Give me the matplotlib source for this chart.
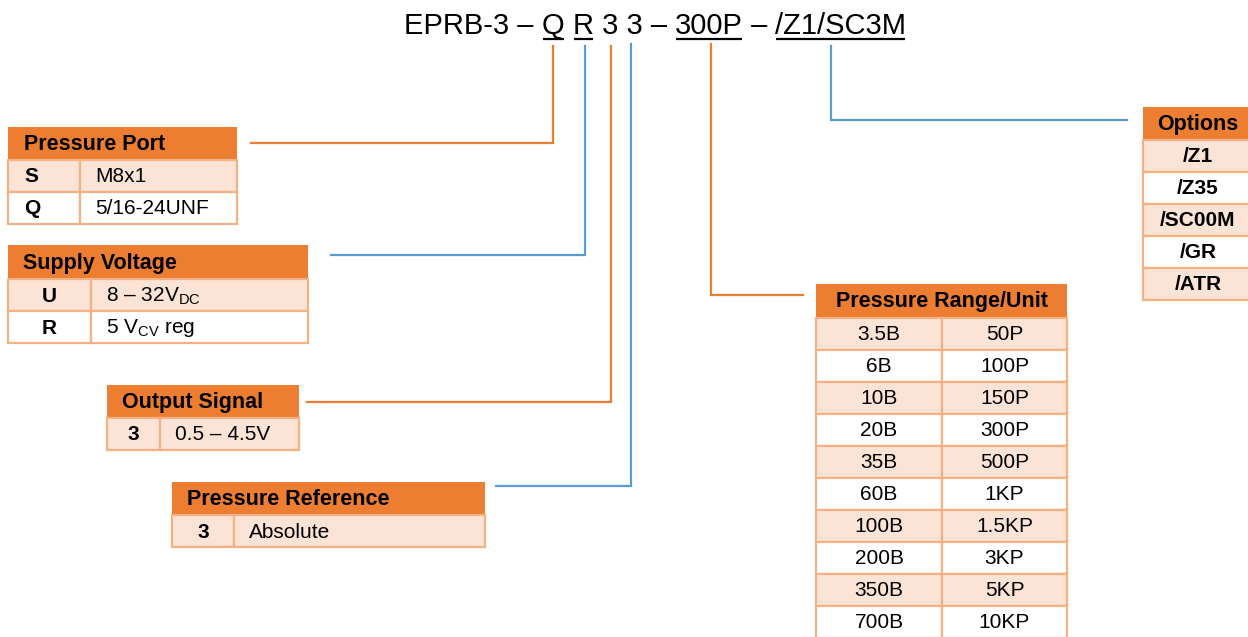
import matplotlib
matplotlib.use("Agg")
import matplotlib.pyplot as plt
from matplotlib.patches import Rectangle

plt.rcParams['font.family'] = ['Liberation Sans', 'DejaVu Sans']
plt.rcParams['mathtext.fontset'] = 'custom'
plt.rcParams['mathtext.rm'] = 'Liberation Sans'
plt.rcParams['mathtext.it'] = 'Liberation Sans:italic'
plt.rcParams['mathtext.bf'] = 'Liberation Sans:bold'

# ---- content ----
title_parts = ["EPRB-3 – ", "Q", " ", "R", " 3 3 – ", "300P", " – ", "/Z1/SC3M"]
title_underlined = [False, True, False, True, False, True, False, True]

port_header = "Pressure Port"
port_codes = ["S", "Q"]
port_values = ["M8x1", "5/16-24UNF"]

voltage_header = "Supply Voltage"
voltage_codes = ["U", "R"]
voltage_values = [r"8 – 32V$_{\mathrm{DC}}$", r"5 V$_{\mathrm{CV}}$ reg"]

output_header = "Output Signal"
output_codes = ["3"]
output_values = ["0.5 – 4.5V"]

reference_header = "Pressure Reference"
reference_codes = ["3"]
reference_values = ["Absolute"]

range_header = "Pressure Range/Unit"
range_bar = ["3.5B", "6B", "10B", "20B", "35B", "60B", "100B", "200B", "350B", "700B"]
range_psi = ["50P", "100P", "150P", "300P", "500P", "1KP", "1.5KP", "3KP", "5KP", "10KP"]

options_header = "Options"
options_codes = ["/Z1", "/Z35", "/SC00M", "/GR", "/ATR"]

# ---- style ----
ORANGE = "#ED7D31"
LIGHT = "#FBE4D5"
BORDER = "#F4B183"
BLUE = "#5B9BD5"
W, H = 1248, 637

fig = plt.figure(figsize=(W / 100, H / 100), dpi=100)
ax = fig.add_axes([0, 0, 1, 1])
ax.set_xlim(0, W)
ax.set_ylim(H, 0)
ax.axis("off")

HS = 15.5   # header font size
BS = 15     # body font size


def table(x, y, widths, header, rows, header_align="left", header_pad=15,
          col_align=("center", "left"), col_pad=(0, 15), bold_cols=(True, False),
          hh=33, rh=32, start_light=True, center_x=None):
    total = sum(widths)
    ax.add_patch(Rectangle((x, y), total, hh, facecolor=ORANGE, edgecolor="none", zorder=2))
    if header_align == "left":
        ax.text(x + header_pad, y + hh / 2 + 1, header, fontsize=HS, fontweight="bold",
                ha="left", va="center", zorder=5)
    else:
        hx = center_x if center_x is not None else x + total / 2
        ax.text(hx, y + hh / 2 + 1, header, fontsize=HS, fontweight="bold",
                ha="center", va="center", zorder=5)
    for i, row in enumerate(rows):
        ry = y + hh + i * rh
        light = (i % 2 == 0) == start_light
        cx = x
        for j, (wd, txt) in enumerate(zip(widths, row)):
            ax.add_patch(Rectangle((cx, ry), wd, rh, facecolor=LIGHT if light else "white",
                                   edgecolor=BORDER, lw=1.6, zorder=3))
            if col_align[j] == "center":
                tx = center_x if (center_x is not None and len(widths) == 1) else cx + wd / 2
                ha = "center"
            else:
                tx, ha = cx + col_pad[j], "left"
            ax.text(tx, ry + rh / 2 + 1, txt, fontsize=BS,
                    fontweight="bold" if bold_cols[j] else "normal",
                    ha=ha, va="center", zorder=5)
            cx += wd


table(8, 127, [72, 157], port_header, list(zip(port_codes, port_values)),
      col_align=("left", "left"), col_pad=(16, 15), header_pad=16)
table(8, 245, [83, 217], voltage_header, list(zip(voltage_codes, voltage_values)), hh=34)
table(107, 385, [53, 139], output_header, list(zip(output_codes, output_values)))
table(172, 482, [62, 251], reference_header, list(zip(reference_codes, reference_values)))
table(816, 284, [126, 125], range_header, list(zip(range_bar, range_psi)),
      header_align="center", col_align=("center", "center"), bold_cols=(False, False), hh=34)
table(1143, 107, [120], options_header, [(c,) for c in options_codes],
      header_align="center", col_align=("center",), bold_cols=(True,), center_x=1198)

# ---- title with underlines ----
fig.canvas.draw()
renderer = fig.canvas.get_renderer()
TS = 21
full = "".join(title_parts)
tmp = ax.text(0, 0, full, fontsize=TS)
total_w = tmp.get_window_extent(renderer).width
tmp.remove()
x0 = 655 - total_w / 2
ty = 34
cur = x0
for part, ul in zip(title_parts, title_underlined):
    t = ax.text(cur, ty, part, fontsize=TS, ha="left", va="baseline", zorder=5)
    wpx = t.get_window_extent(renderer).width
    if ul:
        ax.plot([cur + 1, cur + wpx - 1], [ty + 4.5, ty + 4.5], color="black", lw=1.6,
                solid_capstyle="butt", zorder=5)
    cur += wpx

# ---- connector lines ----
LW = 1.6
def conn(pts, color):
    xs = [p[0] for p in pts]
    ys = [p[1] for p in pts]
    ax.plot(xs, ys, color=color, lw=LW, solid_joinstyle="miter", zorder=1)

TOP = 46
conn([(251, 143), (553, 143), (553, TOP)], ORANGE)
conn([(331, 255), (585, 255), (585, TOP)], BLUE)
conn([(307, 402), (611, 402), (611, TOP)], ORANGE)
conn([(496, 486), (631, 486), (631, TOP - 2)], BLUE)
conn([(711, TOP - 2), (711, 295), (803, 295)], ORANGE)
conn([(831, TOP), (831, 120), (1127, 120)], BLUE)

fig.savefig("out.png", dpi=100)
